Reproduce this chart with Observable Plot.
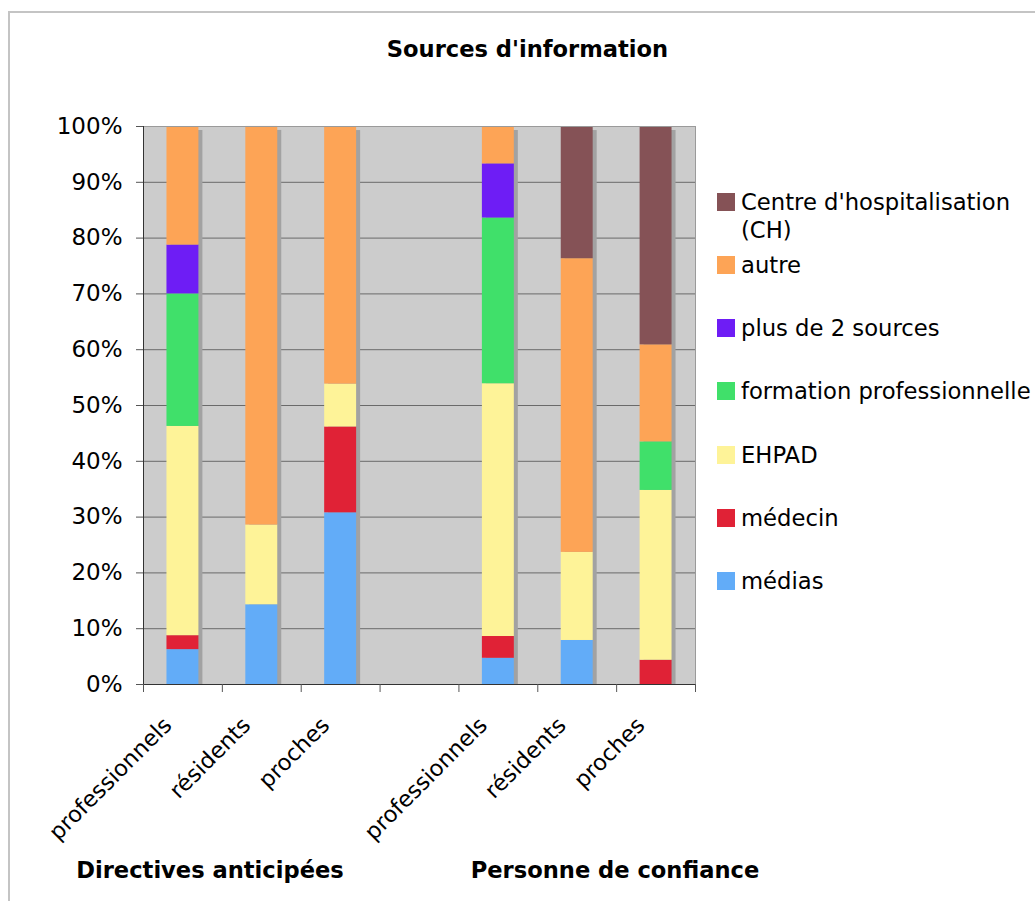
<!DOCTYPE html>
<html><head><meta charset="utf-8">
<script src="https://cdn.jsdelivr.net/npm/d3@7"></script>
<script src="https://cdn.jsdelivr.net/npm/@observablehq/plot@0.6"></script>
<style>
body{margin:0;background:#fff;font-family:"DejaVu Sans",Verdana,sans-serif;color:#000;}
#wrap{position:relative;width:1035px;height:901px;overflow:hidden;}
#border{position:absolute;left:8px;top:11px;width:1100px;height:1000px;border-left:2px solid #c4c4c4;border-top:2px solid #c4c4c4;}
#title{position:absolute;left:0;width:1055px;top:35px;text-align:center;font-weight:bold;font-size:22.6px;line-height:28px;}
#chart{position:absolute;left:0;top:0;}
.leg{position:absolute;left:717px;font-size:22.7px;line-height:28px;}
.leg .sw{position:absolute;left:0;top:5px;width:18px;height:18px;}
.leg .tx{position:absolute;left:24px;top:0;width:300px;}
.grp{position:absolute;width:400px;text-align:center;font-weight:bold;font-size:22.6px;line-height:28px;top:856px;}
</style></head>
<body><div id="wrap"><div id="border"></div><div id="title"></div><div id="chart"></div></div>
<script>
const title = "Sources d'information";
const groups = ["Directives anticipées", "Personne de confiance"];
const respondents = ["professionnels", "résidents", "proches"];
const sources = ["médias", "médecin", "EHPAD", "formation professionnelle", "plus de 2 sources", "autre", "Centre d'hospitalisation (CH)"];
const colors = ["#62acf8", "#e02236", "#fef398", "#40e06a", "#6e1df5", "#fda456", "#855256"];
// values in %, order: DA professionnels, DA résidents, DA proches, PC professionnels, PC résidents, PC proches
const medias    = [6.25, 14.29, 30.77, 4.7, 7.89, 0];
const medecin   = [2.5, 0, 15.38, 3.9, 0, 4.35];
const ehpad     = [37.5, 14.29, 7.69, 45.3, 15.79, 30.43];
const formation = [23.75, 0, 0, 29.7, 0, 8.7];
const plus2     = [8.75, 0, 0, 9.7, 0, 0];
const autre     = [21.25, 71.43, 46.15, 6.7, 52.63, 17.39];
const ch        = [0, 0, 0, 0, 23.68, 39.13];
const yTicks = [0, 0.1, 0.2, 0.3, 0.4, 0.5, 0.6, 0.7, 0.8, 0.9, 1];

const series = [medias, medecin, ehpad, formation, plus2, autre, ch];
const barKeys = [];
groups.forEach(g => respondents.forEach(r => barKeys.push(g + "|" + r)));
const allKeys = [...barKeys.slice(0, 3), "gap", ...barKeys.slice(3)];
const rows = [];
sources.forEach((s, si) => barKeys.forEach((k, ki) => rows.push({key: k, source: s, value: series[si][ki] / 100})));
const totals = barKeys.map((k, ki) => ({key: k, total: d3.sum(series, s => s[ki]) / 100}));

document.getElementById("title").textContent = title;

const W = 1035, H = 901, mL = 143, mR = 340, mT = 126, mB = H - 684;
const step = (W - mL - mR) / allKeys.length;

const chart = Plot.plot({
  width: W, height: H,
  marginLeft: mL, marginRight: mR, marginTop: mT, marginBottom: mB,
  style: {fontFamily: "DejaVu Sans, Verdana, sans-serif", fontSize: "22px", background: "transparent", color: "#000"},
  x: {domain: allKeys, paddingInner: 0.595, paddingOuter: 0.2975, round: false, label: null},
  y: {domain: [0, 1], label: null},
  color: {domain: sources, range: colors},
  marks: [
    Plot.frame({fill: "#cccccc", stroke: null}),
    Plot.gridY(yTicks, {stroke: "#6a6a6a", strokeOpacity: 1}),
    Plot.barY(totals, {x: "key", y: "total", fill: "#a2a2a2", dx: 4, insetTop: 4}),
    Plot.barY(rows, {x: "key", y: "value", fill: "source", order: sources}),
    Plot.frame({stroke: "#9a9a9a"}),
    Plot.frame({anchor: "left", stroke: "#333"}),
    Plot.ruleY([0], {stroke: "#333"}),
    Plot.axisY(yTicks, {tickFormat: d3.format(".0%"), tickSize: 7, tickPadding: 14, fontSize: 23, stroke: "#555", fill: "#000"}),
    Plot.axisX({ticks: allKeys, tickSize: 8, tickFormat: () => "", dx: -step / 2, stroke: "#555"}),
    Plot.axisX({ticks: [allKeys[allKeys.length - 1]], tickSize: 8, tickFormat: () => "", dx: step / 2, stroke: "#555"}),
    Plot.text(barKeys, {x: d => d, text: d => d.split("|")[1], frameAnchor: "bottom", dx: -15, dy: 37, rotate: -45, textAnchor: "end", lineAnchor: "middle", fontSize: 22.5, fill: "#000"})
  ]
});
document.getElementById("chart").appendChild(chart);

const wrap = document.getElementById("wrap");
const legY = [202, 265, 328, 391, 455, 518, 581];
sources.slice().reverse().forEach((s, i) => {
  const d = document.createElement("div");
  d.className = "leg";
  d.style.top = (legY[i] - 14) + "px";
  const sw = document.createElement("div");
  sw.className = "sw";
  sw.style.background = colors[sources.length - 1 - i];
  const tx = document.createElement("div");
  tx.className = "tx";
  tx.textContent = s;
  if (i > 0) tx.style.whiteSpace = "nowrap";
  d.appendChild(sw); d.appendChild(tx);
  wrap.appendChild(d);
});
const grpX = [210, 615];
groups.forEach((g, i) => {
  const d = document.createElement("div");
  d.className = "grp";
  d.style.left = (grpX[i] - 200) + "px";
  d.textContent = g;
  wrap.appendChild(d);
});
</script></body></html>
